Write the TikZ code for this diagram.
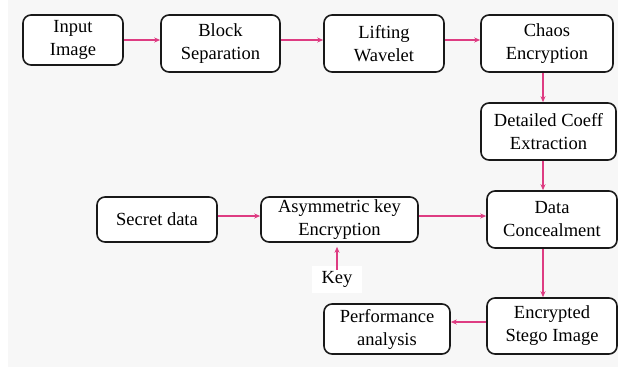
\documentclass[tikz,border=0pt]{standalone}
\usepackage{fontspec}
\setmainfont{Liberation Serif}
\usetikzlibrary{arrows.meta,calc}
\definecolor{arr}{RGB}{222,60,130}
\definecolor{bg}{RGB}{247,247,247}
\tikzset{
  blk/.style={draw=black!90, line width=1.6pt, rounded corners=8pt, fill=white,
    align=center, inner sep=0pt, font=\fontsize{18.5}{23}\selectfont},
  con/.style={draw=arr, line width=1.3pt, -{Stealth[length=6pt,width=5pt]}}
}
\begin{document}
\begin{tikzpicture}[x=1pt,y=-1pt]
\useasboundingbox (0,0) rectangle (618,367);
\fill[white] (0,0) rectangle (618,367);
\fill[bg] (8,0) rectangle (618,367);
\node[blk, minimum width=100pt, minimum height=50pt] (in) at (73,40) {Input\\Image};
\node[blk, minimum width=119pt, minimum height=57pt] (bs) at (220.5,43.5) {Block\\Separation};
\node[blk, minimum width=120pt, minimum height=57pt] (lw) at (384,43.5) {Lifting\\Wavelet};
\node[blk, minimum width=132pt, minimum height=57pt] (ce) at (547,43.5) {Chaos\\Encryption};
\node[blk, minimum width=135pt, minimum height=57pt] (dc) at (548.5,131.5) {Detailed Coeff\\Extraction};
\node[blk, minimum width=120pt, minimum height=45pt] (sd) at (157,219.5) {Secret data};
\node[blk, minimum width=157pt, minimum height=45pt] (ak) at (339.5,219.5) {Asymmetric key\\Encryption};
\node[blk, minimum width=130pt, minimum height=57pt] (dcon) at (552,219.5) {Data\\Concealment};
\node[blk, minimum width=130pt, minimum height=56pt] (es) at (552,326) {Encrypted\\Stego Image};
\node[blk, minimum width=126pt, minimum height=50pt] (pa) at (387,329) {Performance\\analysis};
\node[fill=white, inner sep=0pt, minimum width=50pt, minimum height=27pt,
  font=\fontsize{18.5}{23}\selectfont] (key) at (337,279.5) {Key};
\draw[con] (in.east) -- (in.east -| bs.west);
\draw[con] ([yshift=3.5pt]bs.east) -- ([yshift=3.5pt]bs.east -| lw.west);
\draw[con] ([yshift=3.5pt]lw.east) -- ([yshift=3.5pt]lw.east -| ce.west);
\draw[con] ([xshift=-4pt]ce.south) -- ([xshift=-4pt]ce.south |- dc.north);
\draw[con] ([xshift=-5.5pt]dc.south) -- ([xshift=-5.5pt]dc.south |- dcon.north);
\draw[con] ([yshift=3.5pt]sd.east) -- ([yshift=3.5pt]sd.east -| ak.west);
\draw[con] ([yshift=3.5pt]ak.east) -- ([yshift=3.5pt]ak.east -| dcon.west);
\draw[con] ([yshift=-4pt]key.north) -- ([yshift=-4pt]key.north |- ak.south);
\draw[con] ([xshift=-9pt]dcon.south) -- ([xshift=-9pt]dcon.south |- es.north);
\draw[con] ([yshift=4pt]es.west) -- ([yshift=4pt]es.west -| pa.east);
\end{tikzpicture}
\end{document}
